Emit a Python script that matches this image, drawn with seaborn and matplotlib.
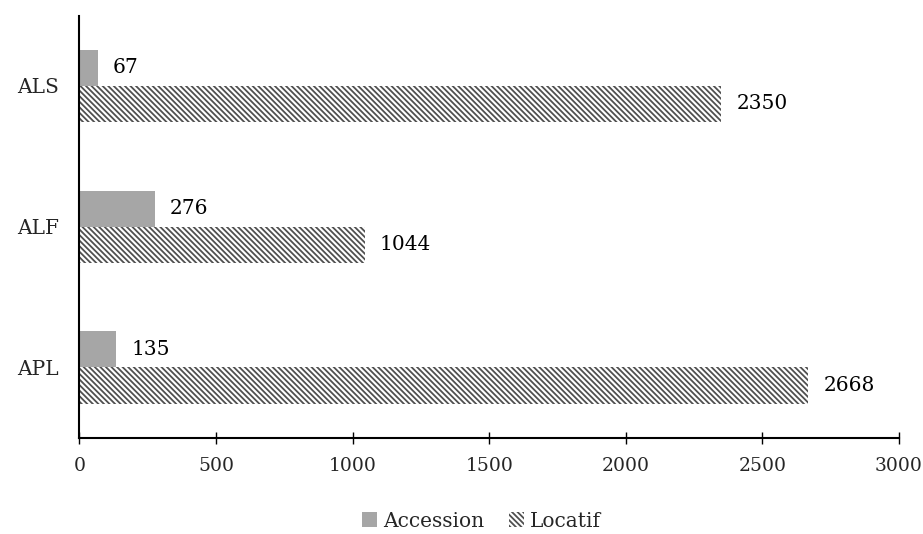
import matplotlib
matplotlib.use("Agg")
import matplotlib.pyplot as plt
import seaborn as sns
import pandas as pd
from matplotlib.patches import Patch

categories = ["ALS", "ALF", "APL"]
accession = [67, 276, 135]
locatif = [2350, 1044, 2668]
series_names = ["Accession", "Locatif"]
xticks = [0, 500, 1000, 1500, 2000, 2500, 3000]

df = pd.DataFrame({
    "cat": categories * 2,
    "val": accession + locatif,
    "series": [series_names[0]] * 3 + [series_names[1]] * 3,
})

sns.set_theme(style="white")
plt.rcParams["font.family"] = ["DejaVu Serif", "Liberation Serif"]
plt.rcParams["hatch.linewidth"] = 1.3
plt.rcParams["hatch.color"] = "#505050"

HATCH = "\\" * 6

fig = plt.figure(figsize=(9.23, 5.34), dpi=100)
ax = fig.add_axes([0.0861, 0.180, 0.8879, 0.7908])

sns.barplot(data=df, y="cat", x="val", hue="series", order=categories,
            hue_order=series_names, orient="h", width=0.512,
            palette=["#a6a6a6", "white"], ax=ax, legend=False,
            saturation=1)

n = len(categories)
for i, p in enumerate(ax.patches[:2 * n]):
    p.set_linewidth(0)
    if i >= n:
        p.set_hatch(HATCH)
        p.set_edgecolor("#505050")
        p.set_facecolor("white")

for cont in ax.containers:
    ax.bar_label(cont, padding=11, fontsize=14.5, color="black")

ax.set_xlim(0, 3000)
ax.set_ylim(2.5, -0.5)
ax.set_xticks(xticks)
ax.set_xticklabels([str(t) for t in xticks], fontsize=13.5)
ax.tick_params(axis="x", bottom=True, direction="inout", length=9, width=1.0,
               color="black", pad=9)
ax.tick_params(axis="y", left=False, length=0, labelsize=14.5, pad=15)
ax.set_xlabel("")
ax.set_ylabel("")
for s in ["top", "right"]:
    ax.spines[s].set_visible(False)
for s in ["left", "bottom"]:
    ax.spines[s].set_color("black")
    ax.spines[s].set_linewidth(1.5)

handles = [Patch(facecolor="#a6a6a6", edgecolor="none", label=series_names[0]),
           Patch(facecolor="white", edgecolor="#505050", hatch=HATCH, linewidth=0,
                 label=series_names[1])]
fig.legend(handles=handles, loc="center", bbox_to_anchor=(0.5217, 0.024), ncol=2,
           frameon=False, fontsize=14.5, handlelength=0.75, handleheight=0.75,
           handletextpad=0.3, columnspacing=1.25, borderpad=0)

fig.savefig("out.png", dpi=100)
